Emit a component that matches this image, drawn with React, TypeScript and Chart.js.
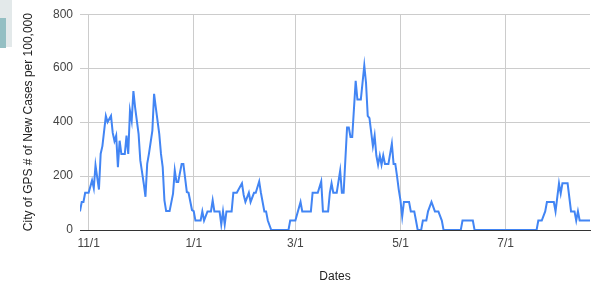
import React, { useEffect, useRef } from "react";
import { Chart, registerables } from "chart.js";

Chart.register(...registerables);

const dates: string[] = [
  "2020-10-27", "2020-10-28", "2020-10-29", "2020-10-30", "2020-11-01", "2020-11-03", "2020-11-04", "2020-11-05",
  "2020-11-07", "2020-11-08", "2020-11-09", "2020-11-11", "2020-11-12", "2020-11-14", "2020-11-15", "2020-11-16",
  "2020-11-17", "2020-11-18", "2020-11-19", "2020-11-20", "2020-11-22", "2020-11-23", "2020-11-24", "2020-11-25",
  "2020-11-26", "2020-11-27", "2020-11-28", "2020-11-30", "2020-12-01", "2020-12-03", "2020-12-04", "2020-12-05",
  "2020-12-06", "2020-12-08", "2020-12-09", "2020-12-10", "2020-12-12", "2020-12-13", "2020-12-14", "2020-12-15",
  "2020-12-16", "2020-12-18", "2020-12-20", "2020-12-21", "2020-12-22", "2020-12-23", "2020-12-25", "2020-12-26",
  "2020-12-28", "2020-12-29", "2020-12-31", "2021-01-01", "2021-01-02", "2021-01-05", "2021-01-06", "2021-01-07",
  "2021-01-09", "2021-01-11", "2021-01-12", "2021-01-13", "2021-01-16", "2021-01-17", "2021-01-18", "2021-01-19",
  "2021-01-20", "2021-01-23", "2021-01-24", "2021-01-26", "2021-01-29", "2021-01-30", "2021-01-31", "2021-02-02",
  "2021-02-03", "2021-02-05", "2021-02-06", "2021-02-08", "2021-02-09", "2021-02-11", "2021-02-12", "2021-02-13",
  "2021-02-15", "2021-02-25", "2021-02-26", "2021-03-01", "2021-03-04", "2021-03-05", "2021-03-10", "2021-03-11",
  "2021-03-14", "2021-03-16", "2021-03-17", "2021-03-20", "2021-03-21", "2021-03-22", "2021-03-23", "2021-03-25",
  "2021-03-27", "2021-03-28", "2021-03-29", "2021-03-31", "2021-04-01", "2021-04-02", "2021-04-03", "2021-04-05",
  "2021-04-06", "2021-04-08", "2021-04-10", "2021-04-11", "2021-04-12", "2021-04-13", "2021-04-15", "2021-04-16",
  "2021-04-17", "2021-04-18", "2021-04-19", "2021-04-20", "2021-04-21", "2021-04-22", "2021-04-24", "2021-04-26",
  "2021-04-27", "2021-04-28", "2021-04-29", "2021-04-30", "2021-05-01", "2021-05-02", "2021-05-03", "2021-05-06",
  "2021-05-07", "2021-05-09", "2021-05-10", "2021-05-11", "2021-05-13", "2021-05-14", "2021-05-16", "2021-05-17",
  "2021-05-19", "2021-05-21", "2021-05-23", "2021-05-25", "2021-05-26", "2021-06-05", "2021-06-06", "2021-06-12",
  "2021-06-13", "2021-07-19", "2021-07-20", "2021-07-22", "2021-07-24", "2021-07-25", "2021-07-29", "2021-07-30",
  "2021-08-01", "2021-08-02", "2021-08-03", "2021-08-06", "2021-08-08", "2021-08-10", "2021-08-11", "2021-08-12",
  "2021-08-13", "2021-08-19",
];

const cases: number[] = [
  69, 104, 104, 138, 138, 184, 155, 240,
  150, 283, 311, 423, 400, 423, 360, 330,
  350, 233, 331, 282, 282, 350, 282, 442,
  405, 515, 454, 356, 258, 172, 123, 245,
  282, 368, 505, 454, 356, 282, 233, 110,
  70, 70, 135, 221, 178, 178, 245, 245,
  141, 138, 74, 70, 35, 35, 69, 35,
  69, 69, 110, 69, 69, 20, 69, 20,
  69, 69, 138, 138, 173, 130, 104, 138,
  104, 138, 138, 180, 138, 69, 69, 35,
  0, 0, 35, 35, 104, 69, 69, 138,
  138, 180, 69, 69, 138, 173, 138, 138,
  220, 138, 138, 380, 380, 345, 345, 553,
  484, 484, 610, 546, 423, 415, 311, 350,
  276, 242, 276, 242, 276, 245, 245, 320,
  245, 245, 200, 150, 110, 50, 104, 104,
  69, 69, 35, 0, 0, 35, 35, 69,
  104, 69, 69, 35, 0, 0, 35, 35,
  0, 0, 35, 35, 69, 104, 104, 69,
  173, 135, 173, 173, 69, 69, 35, 69,
  35, 35,
];

const tickDates: string[] = ["2020-11-01", "2021-01-01", "2021-03-01", "2021-05-01", "2021-07-01"];
const tickLabels: string[] = ["11/1", "1/1", "3/1", "5/1", "7/1"];
const yTicks: number[] = [0, 200, 400, 600, 800];

const yTitle = "City of GPS # of New Cases per 100,000";
const xTitle = "Dates";

const BASE = Date.UTC(2020, 10, 1);
const dayOf = (s: string) => (Date.parse(s + "T00:00:00Z") - BASE) / 86400000;

const FONT = "'Liberation Sans', Arial, sans-serif";

export default function App() {
  const ref = useRef<HTMLCanvasElement | null>(null);

  useEffect(() => {
    if (!ref.current) return;
    const points = dates.map((d, i) => ({ x: dayOf(d), y: cases[i] }));
    const tickDays = tickDates.map(dayOf);
    const chart = new Chart(ref.current, {
      type: "line",
      data: {
        datasets: [
          {
            data: points,
            borderColor: "#4285f4",
            borderWidth: 2,
            pointRadius: 0,
            tension: 0,
            fill: false,
          },
        ],
      },
      options: {
        animation: false,
        responsive: false,
        maintainAspectRatio: false,
        layout: { padding: { top: 11, right: 1, left: 0, bottom: 0 } },
        plugins: { legend: { display: false }, tooltip: { enabled: false } },
        scales: {
          x: {
            type: "linear",
            min: dayOf(dates[0]),
            max: dayOf(dates[dates.length - 1]),
            afterBuildTicks: (s: any) => {
              s.ticks = tickDays.map((v) => ({ value: v }));
            },
            afterFit: (s: any) => {
              s.height = 55;
            },
            ticks: {
              autoSkip: false,
              maxRotation: 0,
              padding: 6,
              color: "#444",
              font: { family: FONT, size: 12 },
              callback: (v: any) => tickLabels[tickDays.indexOf(Number(v))] ?? "",
            },
            grid: { color: "#cccccc", drawTicks: false },
            border: { display: true, color: "#333333", width: 1 },
            title: {
              display: true,
              text: xTitle,
              color: "#222",
              font: { family: FONT, size: 12 },
              padding: { top: 0, bottom: 1 },
            },
          },
          y: {
            min: 0,
            max: 800,
            afterBuildTicks: (s: any) => {
              s.ticks = yTicks.map((v) => ({ value: v }));
            },
            afterFit: (s: any) => {
              s.width = 80;
            },
            ticks: {
              padding: 7,
              color: "#444",
              font: { family: FONT, size: 12 },
            },
            grid: { color: "#cccccc", drawTicks: false },
            border: { display: false },
            title: {
              display: true,
              text: yTitle,
              color: "#222",
              font: { family: FONT, size: 12 },
              padding: { top: 21, bottom: 0 },
            },
          },
        },
      },
    });
    return () => chart.destroy();
  }, []);

  return (
    <div style={{ position: "fixed", left: 0, top: 0, width: 591, height: 285, background: "#fff" }}>
      <canvas ref={ref} width={591} height={285} style={{ display: "block" }} />
      <div style={{ position: "absolute", left: 0, top: 0, width: 12, height: 47, background: "#e3e9ea" }} />
      <div style={{ position: "absolute", left: 0, top: 18, width: 6, height: 30, background: "#94bfc3" }} />
    </div>
  );
}
